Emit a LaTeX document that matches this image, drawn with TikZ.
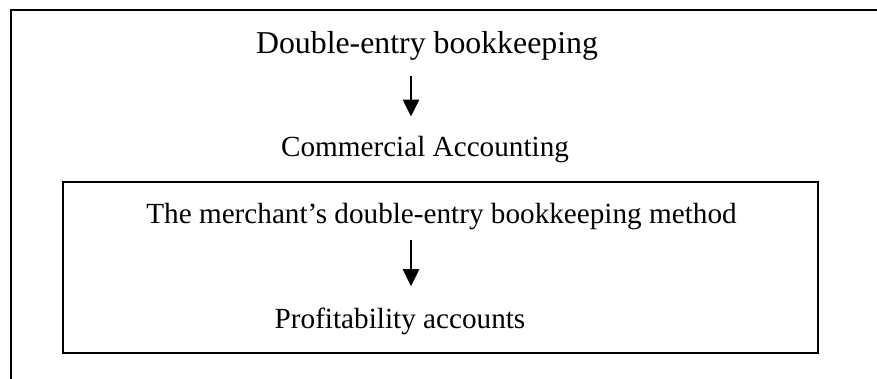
\documentclass[tikz,border=0pt]{standalone}
\usepackage{fontspec}
\setmainfont{Liberation Serif}
\usetikzlibrary{arrows.meta}

\tikzset{
  label/.style={anchor=base, inner sep=0pt, font=\fontsize{29.2}{34}\selectfont},
  biglabel/.style={label, font=\fontsize{31.8}{37}\selectfont},
  flow/.style={line width=2.5pt, -{Triangle[length=17pt,width=16pt]}},
  frame/.style={line width=2pt}
}

\begin{document}
\begin{tikzpicture}[x=1pt,y=-1pt]
			%%%%% START %%%%%
			\useasboundingbox (0,0) rectangle (877,379);
			
			% outer frame, only top and left show
			\draw[frame] (11,380) -- (11,10) -- (878,10);
			
			\node[biglabel] (double) at (427,54) {Double-entry bookkeeping};
			\node[label] (commercial) at (425,157) {Commercial Accounting};
			
			% inner box
			\draw[frame] (63,182) rectangle (818,353);
			
			\node[label] (merchant) at (441.5,223) {The merchant’s double-entry bookkeeping method};
			\node[label] (profit) at (400,328) {Profitability accounts};
			
			\coordinate (axis) at (411,0);
			\draw[flow, shorten <=15pt, shorten >=20pt] (double.south -| axis) -- (commercial.north -| axis);
			\draw[flow, shorten <=10.7pt, shorten >=21pt] (merchant.south -| axis) -- (profit.north -| axis);
			
			%%%%% END %%%%%
\end{tikzpicture}
\end{document}
